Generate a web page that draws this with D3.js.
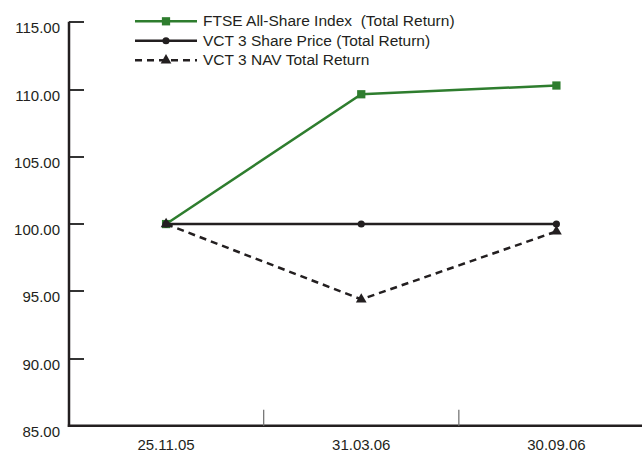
<!DOCTYPE html>
<html>
<head>
<meta charset="utf-8">
<script src="https://cdn.jsdelivr.net/npm/d3@7"></script>
<style>
  html, body { margin: 0; padding: 0; background: #fff; }
  svg { display: block; }
  text { font-family: "Liberation Sans", Arial, Helvetica, sans-serif; fill: #231f20; }
</style>
</head>
<body>
<svg id="chart" width="642" height="452"></svg>
<script>
const categories = ["25.11.05", "31.03.06", "30.09.06"];
const ftse = [100.0, 109.65, 110.3];
const sharePrice = [100.0, 100.0, 100.0];
const nav = [100.0, 94.4, 99.45];
const yTicks = [85, 90, 95, 100, 105, 110, 115];
const seriesNames = ["FTSE All-Share Index  (Total Return)", "VCT 3 Share Price (Total Return)", "VCT 3 NAV Total Return"];

const GREEN = "#2e7d2e";
const BLACK = "#231f20";

const svg = d3.select("#chart");
const x = d3.scaleBand().domain(categories).range([68.5, 654]).paddingInner(0).paddingOuter(0);
const y = d3.scaleLinear().domain([85, 115]).range([425.8, 22.3]);
const cx = c => x(c) + x.bandwidth() / 2;

// Y axis
const yAxisX = 69;
const ya = svg.append("g");
const innerTicks = yTicks.filter(t => t !== 85);
ya.selectAll("rect.ytick").data(innerTicks).join("rect").attr("class", "ytick")
  .attr("x", yAxisX).attr("y", d => Math.round(y(d)) - 1).attr("width", 15).attr("height", 2)
  .attr("fill", "#333");
ya.append("line").attr("x1", yAxisX).attr("x2", yAxisX).attr("y1", y(115) - 0.6).attr("y2", y(85) + 1.2)
  .attr("stroke", BLACK).attr("stroke-width", 2.5);
ya.selectAll("text").data(yTicks).join("text")
  .attr("x", 60).attr("y", d => y(d) + 11).attr("text-anchor", "end")
  .attr("font-size", 15).text(d => d3.format(".2f")(d));

// X axis
const xa = svg.append("g");
xa.append("line").attr("x1", yAxisX - 1.2).attr("x2", 660).attr("y1", y(85)).attr("y2", y(85))
  .attr("stroke", BLACK).attr("stroke-width", 2.5);
xa.selectAll("line.xtick").data(categories.slice(1)).join("line").attr("class", "xtick")
  .attr("x1", d => x(d)).attr("x2", d => x(d)).attr("y1", y(85)).attr("y2", y(85) - 16)
  .attr("stroke", "#777").attr("stroke-width", 1.3);
xa.selectAll("text").data(categories).join("text")
  .attr("x", d => cx(d)).attr("y", y(85) + 24.5).attr("text-anchor", "middle")
  .attr("font-size", 15).text(d => d);

const line = d3.line().x((d, i) => cx(categories[i])).y(d => y(d));

// Series
const sq = d3.symbol().type(d3.symbolSquare).size(68);
const circ = d3.symbol().type(d3.symbolCircle).size(40);
const tri = d3.symbol().type(d3.symbolTriangle).size(50);

function drawSeries(vals, color, dash, sym) {
  const g = svg.append("g");
  g.append("path").attr("d", line(vals)).attr("fill", "none").attr("stroke", color)
    .attr("stroke-width", 2.5).attr("stroke-dasharray", dash);
  g.selectAll("path.m").data(vals).join("path").attr("class", "m")
    .attr("d", sym).attr("fill", color)
    .attr("transform", (d, i) => `translate(${cx(categories[i])},${y(d)})`);
}
drawSeries(ftse, GREEN, null, sq);
drawSeries(sharePrice, BLACK, null, circ);
drawSeries(nav, BLACK, "7,5", tri);

// Legend
const legendItems = [
  { name: seriesNames[0], color: GREEN, dash: null, sym: sq },
  { name: seriesNames[1], color: BLACK, dash: null, sym: circ },
  { name: seriesNames[2], color: BLACK, dash: "7,5", sym: tri }
];
const lg = svg.append("g");
legendItems.forEach((it, i) => {
  const ly = 21.3 + i * 19.5;
  lg.append("line").attr("x1", 135).attr("x2", 197).attr("y1", ly).attr("y2", ly)
    .attr("stroke", it.color).attr("stroke-width", 2.5).attr("stroke-dasharray", it.dash);
  lg.append("path").attr("d", it.sym).attr("fill", it.color).attr("transform", `translate(166,${ly})`);
  lg.append("text").attr("x", 203).attr("y", ly + 5).attr("font-size", 15.5)
    .style("white-space", "pre").text(it.name);
});
</script>
</body>
</html>
